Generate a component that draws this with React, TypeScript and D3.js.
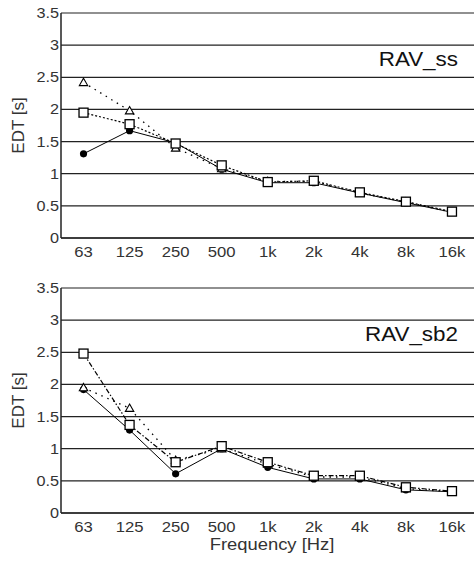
import React from "react";
import * as d3 from "d3";

const categories = ["63", "125", "250", "500", "1k", "2k", "4k", "8k", "16k"];
const yTicks = [0, 0.5, 1, 1.5, 2, 2.5, 3, 3.5];
const yTickLabels = ["0", "0.5", "1", "1.5", "2", "2.5", "3", "3.5"];

// Top chart: RAV_ss
const ssCircle = [1.31, 1.67, 1.48, 1.07, 0.86, 0.86, 0.7, 0.55, 0.4];
const ssSquare = [1.95, 1.77, 1.47, 1.13, 0.87, 0.89, 0.71, 0.565, 0.41];
const ssTriangle = [2.42, 1.98, 1.4, 1.08, 0.88, 0.88, 0.7, 0.56, 0.4];

// Bottom chart: RAV_sb2
const sb2Circle = [1.92, 1.29, 0.61, 1.0, 0.71, 0.53, 0.53, 0.36, 0.33];
const sb2Square = [2.48, 1.37, 0.79, 1.04, 0.79, 0.58, 0.58, 0.4, 0.34];
const sb2Triangle = [1.95, 1.63, 0.82, 1.0, 0.76, 0.56, 0.56, 0.38, 0.33];

const FONT = "'Liberation Sans', Arial, sans-serif";
const TXT = "#333";

type PanelProps = {
  top: number;
  bottom: number;
  title: string;
  circle: number[];
  square: number[];
  triangle: number[];
  squareDash: string;
  triangleDash: string;
  showXTitle: boolean;
};

function Panel(p: PanelProps) {
  const x = d3.scalePoint<string>().domain(categories).range([60.5, 475]).padding(0.5);
  const y = d3.scaleLinear().domain([0, 3.5]).range([p.bottom, p.top]);
  const left = 61;
  const right = 474;
  const mk = (vals: number[]) =>
    d3.line<number>().x((_, i) => x(categories[i]) as number).y((v) => y(v))(vals) || "";
  const tri = (cx: number, cy: number) => {
    const s = 4.2;
    return `M${cx},${cy - s}L${cx + s},${cy + s * 0.75}L${cx - s},${cy + s * 0.75}Z`;
  };
  return (
    <g>
      {yTicks.map((t, i) => (
        <g key={t}>
          <line x1={left} x2={right} y1={y(t)} y2={y(t)} stroke="#222" strokeWidth={1.2} />
          <text
            transform={`translate(59,${y(t) + 5}) scale(1.12,1)`}
            textAnchor="end"
            fontFamily={FONT}
            fontSize={14.5}
            fill={TXT}
          >
            {yTickLabels[i]}
          </text>
        </g>
      ))}
      <line x1={left} x2={left} y1={y(3.5)} y2={y(0)} stroke="#222" strokeWidth={1.5} />
      <line x1={left} x2={right} y1={y(0)} y2={y(0)} stroke="#222" strokeWidth={1.5} />
      {categories.map((c) => (
        <text
          key={c}
          transform={`translate(${x(c)},${y(0) + 19}) scale(1.15,1)`}
          textAnchor="middle"
          fontFamily={FONT}
          fontSize={14.5}
          fill={TXT}
        >
          {c}
        </text>
      ))}
      <text
        transform={`translate(24,${(y(0) + y(3.5)) / 2}) rotate(-90)`}
        textAnchor="middle"
        fontFamily={FONT}
        fontSize={17}
        fill={TXT}
      >
        EDT [s]
      </text>
      <text
        transform={`translate(458,${y(2.68)}) scale(1.15,1)`}
        textAnchor="end"
        fontFamily={FONT}
        fontSize={19.5}
        fill="#111"
      >
        {p.title}
      </text>
      {p.showXTitle && (
        <text
          transform={`translate(272,${y(0) + 37}) scale(1.15,1)`}
          textAnchor="middle"
          fontFamily={FONT}
          fontSize={16}
          fill={TXT}
        >
          Frequency [Hz]
        </text>
      )}
      <path d={mk(p.circle)} fill="none" stroke="#000" strokeWidth={1} />
      <path d={mk(p.triangle)} fill="none" stroke="#000" strokeWidth={1.3} strokeDasharray={p.triangleDash} />
      <path d={mk(p.square)} fill="none" stroke="#000" strokeWidth={1.2} strokeDasharray={p.squareDash} />
      {p.circle.map((v, i) => (
        <circle key={"c" + i} cx={x(categories[i])} cy={y(v)} r={3.6} fill="#000" />
      ))}
      {p.triangle.map((v, i) => (
        <path key={"t" + i} d={tri(x(categories[i]) as number, y(v))} fill="#fff" stroke="#000" strokeWidth={1.1} />
      ))}
      {p.square.map((v, i) => (
        <rect
          key={"s" + i}
          x={(x(categories[i]) as number) - 4.5}
          y={y(v) - 4.5}
          width={9}
          height={9}
          fill="#fff"
          stroke="#000"
          strokeWidth={1.3}
        />
      ))}
    </g>
  );
}

export default function App() {
  return (
    <svg
      width={474}
      height={561}
      style={{ position: "absolute", left: 0, top: 0, background: "#fff" }}
    >
      <rect width={474} height={561} fill="#fff" />
      <Panel
        top={13}
        bottom={238}
        title="RAV_ss"
        circle={ssCircle}
        square={ssSquare}
        triangle={ssTriangle}
        squareDash="2,2"
        triangleDash="1.5,5"
        showXTitle={false}
      />
      <Panel
        top={288}
        bottom={513}
        title="RAV_sb2"
        circle={sb2Circle}
        square={sb2Square}
        triangle={sb2Triangle}
        squareDash="5,2,1.5,2"
        triangleDash="1.5,5"
        showXTitle={true}
      />
    </svg>
  );
}
